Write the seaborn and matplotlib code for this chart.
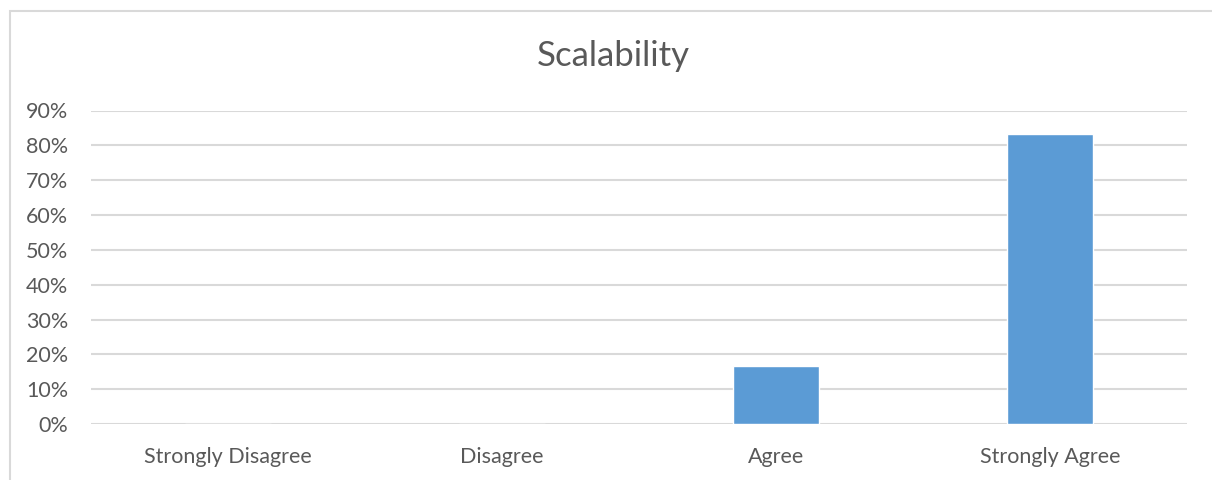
import matplotlib
matplotlib.use("Agg")
import matplotlib.pyplot as plt
from matplotlib.patches import Rectangle
from matplotlib.ticker import PercentFormatter
import seaborn as sns
import pandas as pd

# Survey responses (share of respondents)
categories = ["Strongly Disagree", "Disagree", "Agree", "Strongly Agree"]
shares = [0.0, 0.0, 16.67, 83.33]
title = "Scalability"

sns.set_theme(style="white")
plt.rcParams["font.family"] = ["Lato", "DejaVu Sans"]

text_color = "#595959"
grid_color = "#d9d9d9"
bar_color = "#5b9bd5"

df = pd.DataFrame({"category": categories, "share": shares})

fig = plt.figure(figsize=(12.12, 4.8), dpi=100)
ax = fig.add_axes([91 / 1212, 56 / 480, (1187 - 91) / 1212, 313.5 / 480])

sns.barplot(data=df, x="category", y="share", order=categories,
            color=bar_color, saturation=1, width=0.314, ax=ax)

ax.set_ylim(0, 90)
ax.set_yticks(range(0, 91, 10))
ax.yaxis.set_major_formatter(PercentFormatter(decimals=0))
ax.set_xlim(-0.5, len(categories) - 0.5)

ax.grid(axis="y", color=grid_color, linewidth=1.5)
ax.set_axisbelow(True)
for side in ["top", "right", "left", "bottom"]:
    ax.spines[side].set_visible(False)

ax.tick_params(axis="both", length=0, labelsize=15.5, colors=text_color)
ax.tick_params(axis="y", pad=16.5)
ax.tick_params(axis="x", pad=16.5)
ax.set_xlabel("")
ax.set_ylabel("")

fig.text(613 / 1212, 1 - 56 / 480, title, ha="center", va="center",
         fontsize=25, color=text_color)

# Chart-area frame
fig.patches.append(Rectangle((10 / 1212, -0.1), 1.2, 1 - 11 / 480 + 0.1,
                             transform=fig.transFigure, fill=False,
                             edgecolor=grid_color, linewidth=1.5))

fig.savefig("out.png", dpi=100, facecolor="white")
